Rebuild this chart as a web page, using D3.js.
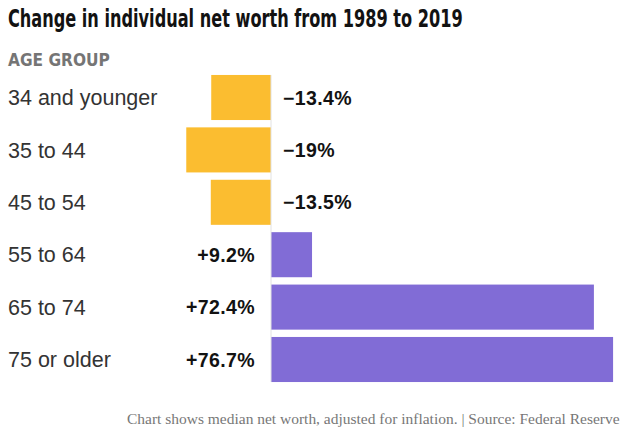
<!DOCTYPE html>
<html>
<head>
<meta charset="utf-8">
<script src="https://cdn.jsdelivr.net/npm/d3@7"></script>
<style>
  body { margin: 0; background: #fff; }
</style>
</head>
<body>
<div id="chart"></div>
<script>
// data
var groups = ["34 and younger", "35 to 44", "45 to 54", "55 to 64", "65 to 74", "75 or older"];
var changes = [-13.4, -19, -13.5, 9.2, 72.4, 76.7];
var changeLabels = ["\u221213.4%", "\u221219%", "\u221213.5%", "+9.2%", "+72.4%", "+76.7%"];

var width = 626, height = 434;
var narrow = "'Liberation Sans Narrow', 'DejaVu Sans Condensed', Arial, sans-serif";
var sans = "'Liberation Sans', Arial, Helvetica, sans-serif";

var svg = d3.select("#chart")
    .append("svg")
    .attr("width", width)
    .attr("height", height);

var x = d3.scaleLinear()
    .domain([-20, 80])
    .range([181.8, 627.8]);

var y = d3.scaleBand()
    .domain(groups)
    .range([71.3, 385.7])
    .paddingInner(0.14)
    .paddingOuter(0.07);

// squeeze a text horizontally to a given width (the original uses a condensed face)
function fitWidth(sel, w) {
    var node = sel.node();
    var natural = node.getComputedTextLength();
    var k = w / natural;
    var x0 = +sel.attr("x"), y0 = +sel.attr("y");
    var anchor = sel.attr("text-anchor") === "end" ? x0 : x0;
    sel.attr("transform", "translate(" + anchor + "," + y0 + ") scale(" + k + ",1) translate(" + (-anchor) + "," + (-y0) + ")");
}

// title + column header
svg.append("text")
    .attr("x", 8).attr("y", 27)
    .attr("font-family", narrow)
    .attr("font-weight", "bold")
    .attr("font-size", 25)
    .attr("fill", "#121212")
    .text("Change in individual net worth from 1989 to 2019")
    .call(fitWidth, 455);

svg.append("text")
    .attr("x", 8).attr("y", 66)
    .attr("font-family", narrow)
    .attr("font-weight", "bold")
    .attr("font-size", 18)
    .attr("fill", "#757575")
    .text("AGE GROUP")
    .call(fitWidth, 102);

// bars
svg.selectAll("rect.bar")
    .data(changes)
    .enter().append("rect")
    .attr("class", "bar")
    .attr("x", function(d) { return x(Math.min(0, d)); })
    .attr("y", function(d, i) { return y(groups[i]); })
    .attr("width", function(d) { return Math.abs(x(d) - x(0)); })
    .attr("height", y.bandwidth())
    .attr("fill", function(d) { return d < 0 ? "#FBBD30" : "#816CD6"; });

// zero line
svg.append("line")
    .attr("x1", x(0)).attr("x2", x(0))
    .attr("y1", y(groups[0])).attr("y2", y(groups[5]) + y.bandwidth())
    .attr("stroke", "#e2e2e2")
    .attr("stroke-width", 1);

// age group labels
svg.selectAll("text.group")
    .data(groups)
    .enter().append("text")
    .attr("class", "group")
    .attr("x", 8)
    .attr("y", function(d) { return y(d) + y.bandwidth() / 2; })
    .attr("dy", "0.36em")
    .attr("font-family", sans)
    .attr("font-size", 21.5)
    .attr("fill", "#333")
    .text(function(d) { return d; });

// value labels
svg.selectAll("text.value")
    .data(changes)
    .enter().append("text")
    .attr("class", "value")
    .attr("x", function(d) { return d < 0 ? x(0) + 12 : x(0) - 16; })
    .attr("y", function(d, i) { return y(groups[i]) + y.bandwidth() / 2; })
    .attr("dy", "0.36em")
    .attr("text-anchor", function(d) { return d < 0 ? "start" : "end"; })
    .attr("font-family", sans)
    .attr("font-weight", "bold")
    .attr("font-size", 19.5)
    .attr("letter-spacing", 0.4)
    .attr("fill", "#121212")
    .text(function(d, i) { return changeLabels[i]; });

// footnote
svg.append("text")
    .attr("x", 127).attr("y", 424)
    .attr("font-family", "'Liberation Serif', 'DejaVu Serif', Georgia, serif")
    .attr("font-size", 15)
    .attr("fill", "#777")
    .text("Chart shows median net worth, adjusted for inflation. | Source: Federal Reserve")
    .call(fitWidth, 493);
</script>
</body>
</html>
